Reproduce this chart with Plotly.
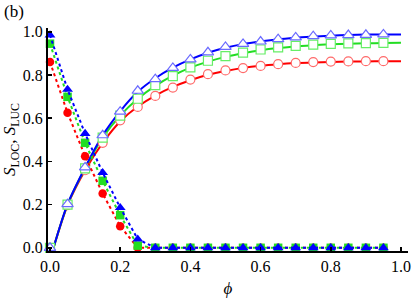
import plotly.graph_objects as go

# ---- data ----
phi = [0.00, 0.05, 0.10, 0.15, 0.20, 0.25, 0.30, 0.35, 0.40, 0.45,
       0.50, 0.55, 0.60, 0.65, 0.70, 0.75, 0.80, 0.85, 0.90, 0.95]

# decreasing (filled markers, dotted lines)
loc_red = [0.860, 0.625, 0.424, 0.251, 0.100, 0.0, 0, 0, 0, 0, 0, 0, 0, 0, 0, 0, 0, 0, 0, 0]
loc_green = [0.945, 0.699, 0.486, 0.310, 0.151, 0.010, 0, 0, 0, 0, 0, 0, 0, 0, 0, 0, 0, 0, 0, 0]
loc_blue = [0.985, 0.733, 0.529, 0.348, 0.186, 0.040, 0, 0, 0, 0, 0, 0, 0, 0, 0, 0, 0, 0, 0, 0]

# increasing (open markers)
luc_red = [0.0, 0.197, 0.359, 0.486, 0.590, 0.652, 0.703, 0.742, 0.779, 0.804,
           0.821, 0.832, 0.842, 0.850, 0.856, 0.860, 0.862, 0.863, 0.864, 0.864]
luc_green = [0.0, 0.200, 0.368, 0.510, 0.612, 0.690, 0.753, 0.795, 0.835, 0.866,
             0.887, 0.904, 0.918, 0.928, 0.935, 0.941, 0.944, 0.946, 0.948, 0.949]
luc_blue = [0.0, 0.202, 0.372, 0.521, 0.630, 0.727, 0.781, 0.833, 0.872, 0.905,
            0.930, 0.944, 0.955, 0.966, 0.974, 0.980, 0.983, 0.985, 0.986, 0.988]

# theory curves (solid lines)
phi_curve = [0.01, 0.05, 0.10, 0.15, 0.20, 0.25, 0.30, 0.35, 0.40, 0.45,
             0.50, 0.55, 0.60, 0.65, 0.70, 0.75, 0.80, 0.85, 0.90, 0.95, 1.00]
curve_red = [0.0, 0.197, 0.359, 0.486, 0.585, 0.654, 0.705, 0.745, 0.776, 0.801,
             0.819, 0.833, 0.843, 0.850, 0.855, 0.858, 0.860, 0.862, 0.863, 0.864, 0.864]
curve_green = [0.0, 0.200, 0.368, 0.510, 0.612, 0.690, 0.750, 0.797, 0.834, 0.862,
               0.884, 0.901, 0.915, 0.925, 0.932, 0.938, 0.942, 0.945, 0.947, 0.948, 0.949]
curve_blue = [0.0, 0.202, 0.372, 0.521, 0.632, 0.722, 0.785, 0.834, 0.872, 0.903,
              0.926, 0.943, 0.955, 0.965, 0.972, 0.978, 0.982, 0.985, 0.987, 0.988, 0.988]

tick_vals = [0, 0.2, 0.4, 0.6, 0.8, 1.0]
tick_text = ["0.0", "0.2", "0.4", "0.6", "0.8", "1.0"]

RED, GREEN, BLUE = "#ff0000", "#22dd22", "#0000ff"
LRED, LGREEN, LBLUE = "#ff6a6a", "#66ee66", "#6a6aff"

fig = go.Figure()

# solid curves
for xc, yc, col in [(phi_curve, curve_red, RED), (phi_curve, curve_green, GREEN),
                    (phi_curve, curve_blue, BLUE)]:
    fig.add_trace(go.Scatter(x=xc, y=yc, mode="lines",
                             line=dict(color=col, width=2, shape="spline", smoothing=0.8),
                             cliponaxis=False, showlegend=False))

# open markers
for y, sym, lc, sz in [(luc_red, "circle", LRED, 9), (luc_green, "square", LGREEN, 9),
                       (luc_blue, "triangle-up", LBLUE, 10)]:
    fig.add_trace(go.Scatter(x=phi, y=y, mode="markers",
                             marker=dict(symbol=sym, size=sz, color="white",
                                         line=dict(color=lc, width=1.2)),
                             cliponaxis=False, showlegend=False))

# dotted decreasing series with filled markers
for y, sym, col, sz in [(loc_red, "circle", RED, 8.5), (loc_green, "square", GREEN, 8.5),
                        (loc_blue, "triangle-up", BLUE, 9.5)]:
    fig.add_trace(go.Scatter(x=phi, y=y, mode="lines+markers",
                             line=dict(color=col, width=2, dash="dot"),
                             marker=dict(symbol=sym, size=sz, color=col, line=dict(width=0)),
                             cliponaxis=False, showlegend=False))

axis_common = dict(tickvals=tick_vals, ticktext=tick_text,
                   ticks="inside", ticklen=4, tickwidth=1.5, tickcolor="black",
                   showline=True, linecolor="black", linewidth=2, mirror=False,
                   showgrid=False, zeroline=False, automargin=False,
                   ticklabeloverflow="allow")

fig.update_layout(
    width=415, height=300,
    margin=dict(l=48, r=7, t=28, b=49),
    paper_bgcolor="white", plot_bgcolor="white",
    font=dict(family="Liberation Serif", size=16, color="black"),
    xaxis=dict(range=[-0.0057, 1.02], **axis_common,
               title=dict(text="<i>ϕ</i>", standoff=8, font=dict(size=17))),
    yaxis=dict(range=[-0.0148, 1.0176], **axis_common,
               title=dict(text="<i>S</i><sub>LOC</sub>, <i>S</i><sub>LUC</sub>", standoff=4,
                          font=dict(size=17))),
    annotations=[dict(text="(b)", x=-0.128, y=1.125, xref="paper", yref="paper",
                      showarrow=False, xanchor="left", yanchor="top", font=dict(size=17))],
)

fig.write_html("out.html", config={"displayModeBar": False, "staticPlot": True},
               post_script="document.body.style.margin='0px';document.body.style.overflow='hidden';")
